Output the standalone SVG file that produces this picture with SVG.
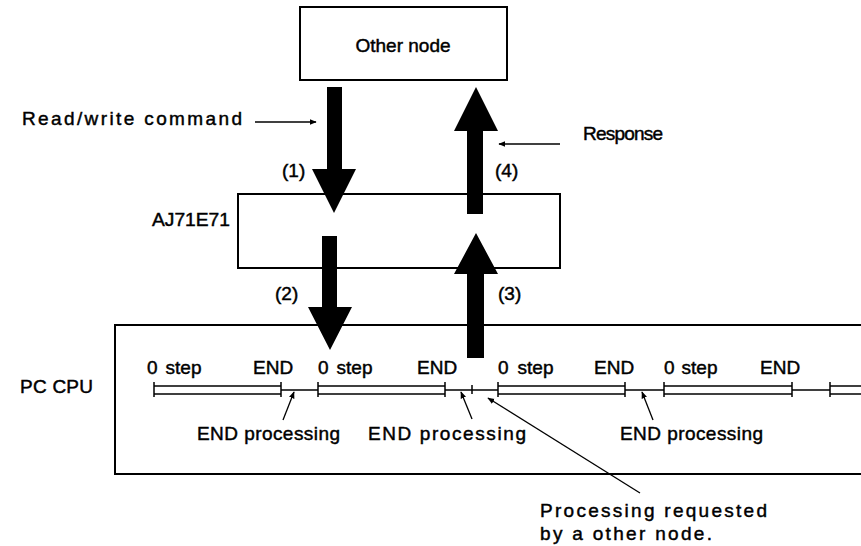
<svg xmlns="http://www.w3.org/2000/svg" width="861" height="546" viewBox="0 0 861 546">
<defs>
<style>
text{font-family:"Liberation Sans",Arial,sans-serif;font-size:19px;fill:#000;stroke:#000;stroke-width:0.45}
.box{fill:none;stroke:#000;stroke-width:2}
.tl{fill:none;stroke:#000;stroke-width:1.5}
.big{fill:#000;stroke:none}
.ptr{fill:none;stroke:#000;stroke-width:1.3}
</style>
<marker id="ah" viewBox="0 0 10 10" refX="9" refY="5" markerWidth="7" markerHeight="7" markerUnits="userSpaceOnUse" orient="auto">
<path d="M0,1 L10,5 L0,9 z" fill="#000"/>
</marker>
</defs>
<rect width="861" height="546" fill="#fff"/>

<g id="node-other">
<rect class="box" x="300" y="7" width="207" height="73"/>
<text x="403" y="52" text-anchor="middle">Other node</text>
</g>

<g id="node-aj71e71">
<rect class="box" x="238" y="194" width="322" height="74"/>
<text x="152" y="226" textLength="78" lengthAdjust="spacingAndGlyphs">AJ71E71</text>
</g>

<g id="node-pccpu">
<rect class="box" x="115" y="325" width="760" height="149"/>
<text x="20" y="393" textLength="73">PC CPU</text>
<g id="timeline">
<path class="tl" d="M154,386H281M154,394H281M318,386H445M318,394H445M498,386H625M498,394H625M664,386H792M664,394H792M830,386H861M830,394H861"/>
<path class="tl" d="M281,390H318M445,390H498M625,390H664M792,390H830"/>
<path class="tl" d="M154,382V397M281,382V397M318,382V397M445,382V397M498,382V397M625,382V397M664,382V397M792,382V397M830,382V397M472,385V394"/>
</g>
<text x="147" y="374">0<tspan dx="8">step</tspan></text>
<text x="253" y="374">END</text>
<text x="318" y="374">0<tspan dx="8">step</tspan></text>
<text x="417" y="374">END</text>
<text x="498" y="374">0<tspan dx="9">step</tspan></text>
<text x="594" y="374">END</text>
<text x="664" y="374">0<tspan dx="7">step</tspan></text>
<text x="760" y="374">END</text>
<text x="197" y="440" textLength="143">END processing</text>
<text x="368" y="440" textLength="158">END processing</text>
<text x="620" y="440" textLength="143">END processing</text>
</g>

<text x="540" y="517" textLength="227">Processing requested</text>
<text x="540" y="540" textLength="172">by a other node.</text>
<text x="22" y="125" textLength="220">Read/write command</text>
<text x="583" y="140" textLength="80">Response</text>

<g id="connectors">
<polygon class="big" points="327,87 342,87 342,169 356,169 334,213 312,169 327,169"/>
<polygon class="big" points="467,214 483,214 483,131 498,131 476,87 454,131 467,131"/>
<polygon class="big" points="322,236 337,236 337,307 352,307 330,350 308,307 322,307"/>
<polygon class="big" points="467,358 484,358 484,274 498,274 476,233 454,274 467,274"/>
<text x="282" y="177">(1)</text>
<text x="495" y="177">(4)</text>
<text x="275" y="300">(2)</text>
<text x="498" y="300">(3)</text>
<line class="ptr" x1="255" y1="122" x2="316" y2="122" marker-end="url(#ah)"/>
<line class="ptr" x1="560" y1="144" x2="499" y2="144" marker-end="url(#ah)"/>
<line class="ptr" x1="283" y1="420" x2="294" y2="392" marker-end="url(#ah)"/>
<line class="ptr" x1="472" y1="419" x2="461" y2="392" marker-end="url(#ah)"/>
<line class="ptr" x1="653" y1="420" x2="642" y2="392" marker-end="url(#ah)"/>
<line class="ptr" x1="640" y1="493" x2="488" y2="398" marker-end="url(#ah)"/>
</g>
</svg>
